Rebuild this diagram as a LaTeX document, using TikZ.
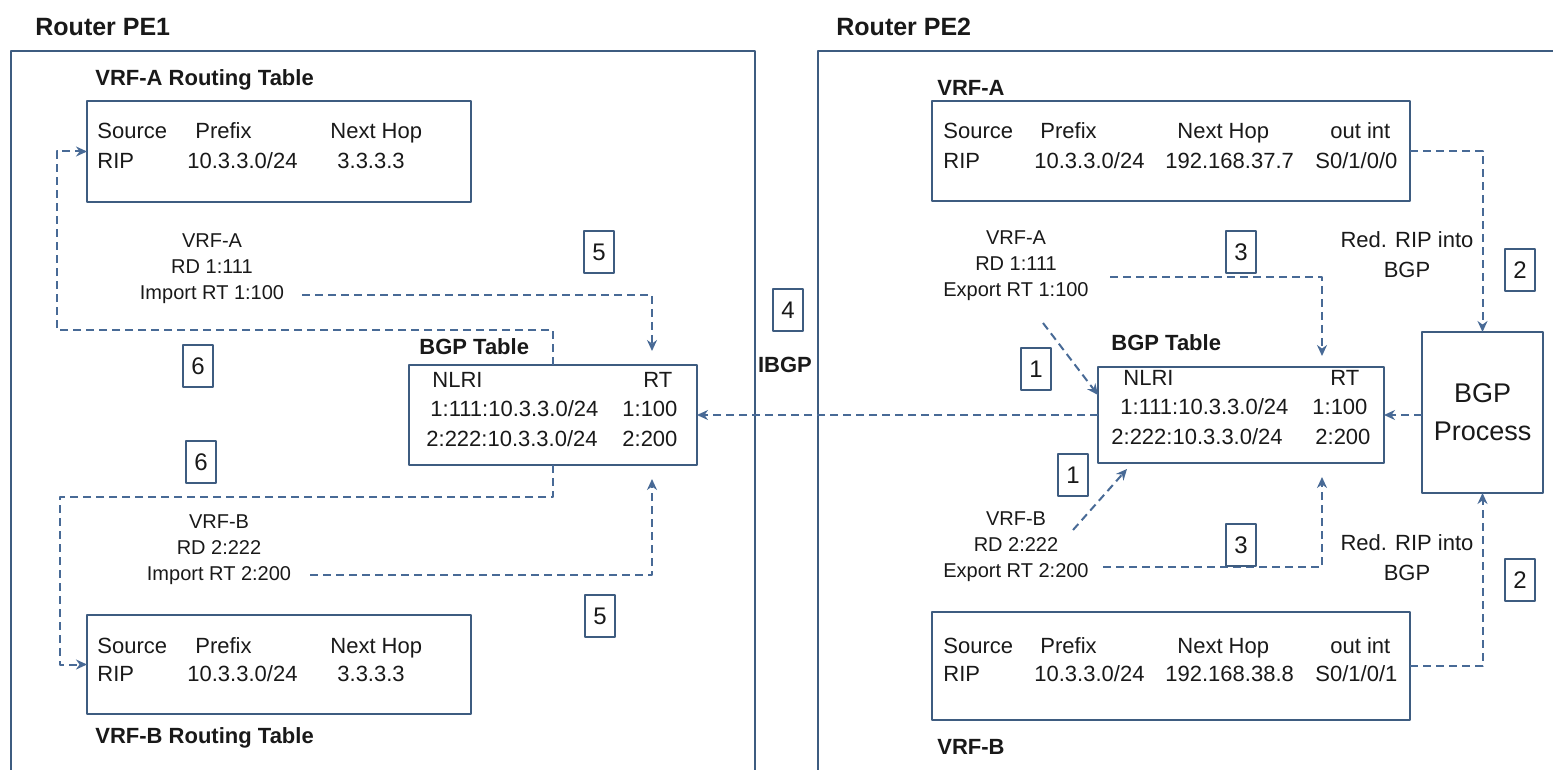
\documentclass[tikz,border=0pt]{standalone}
\usepackage{fontspec}
\setmainfont{Liberation Sans}
\usetikzlibrary{arrows.meta}
\definecolor{boxline}{RGB}{62,92,128}
\definecolor{flowline}{RGB}{72,106,150}
\definecolor{txt}{RGB}{25,25,25}
\tikzset{
  tbl/.style={draw=boxline, line width=1pt, inner sep=0pt, outer sep=0pt},
  cell/.style={anchor=west, inner sep=0pt, text height=8pt, text depth=2pt, text=txt, font=\fontsize{11}{13}\selectfont},
  ttl/.style={anchor=west, inner sep=0pt, text=txt, font=\bfseries\fontsize{11}{13}\selectfont},
  vrfinfo/.style={align=center, inner sep=0pt, text=txt, font=\fontsize{10}{13}\selectfont},
  stepnum/.style={draw=boxline, line width=0.9pt, minimum width=15pt, minimum height=21pt, inner sep=0pt, text=txt, font=\fontsize{12}{14}\selectfont},
  flow/.style={draw=flowline, line width=1pt, dash pattern=on 4pt off 2.5pt, -{Stealth[length=5.5pt,width=5pt,fill=flowline]}},
}
\begin{document}
\begin{tikzpicture}[x=0.5pt, y=-0.5pt, line join=round]
\useasboundingbox (0,0) rectangle (1553,770);
\clip (0,0) rectangle (1553,770);
% Khung hai router
\draw[boxline, line width=1pt] (11,51) rectangle (755,800);
\draw[boxline, line width=1pt] (818,51) rectangle (1600,800);
\node[ttl, font=\bfseries\fontsize{12.5}{14}\selectfont] (pe1) at (35,27) {Router PE1};
\node[ttl, font=\bfseries\fontsize{12.5}{14}\selectfont] (pe2) at (836,27) {Router PE2};

% ===== Router PE1 =====
% VRF-A routing table
\node[ttl] (ta1) at (95,80) {VRF-A Routing Table};
\node[tbl, minimum width=192pt, minimum height=50.5pt] (vrfA1) at (279,151.5) {};
\node[cell] (a1h1) at (97,133) {Source};
\node[cell] (a1h2) at (195,133) {Prefix};
\node[cell] (a1h3) at (330,133) {Next Hop};
\node[cell] (a1r1) at (97,163) {RIP};
\node[cell] (a1r2) at (187,163) {10.3.3.0/24};
\node[cell] (a1r3) at (337,163) {3.3.3.3};

% VRF-B routing table
\node[tbl, minimum width=192pt, minimum height=49.5pt] (vrfB1) at (279,664.5) {};
\node[cell] (b1h1) at (97,647) {Source};
\node[cell] (b1h2) at (195,647) {Prefix};
\node[cell] (b1h3) at (330,647) {Next Hop};
\node[cell] (b1r1) at (97,675) {RIP};
\node[cell] (b1r2) at (187,675) {10.3.3.0/24};
\node[cell] (b1r3) at (337,675) {3.3.3.3};
\node[ttl] (tb1) at (95,738) {VRF-B Routing Table};

% BGP table PE1
\node[ttl] (tg1) at (419,347) {BGP Table};
\node[tbl, minimum width=144pt, minimum height=50pt] (bgp1) at (553,415) {};
\node[cell] (g1h1) at (432,381) {NLRI};
\node[cell] (g1h2) at (643,381) {RT};
\node[cell] (g1r1) at (430,410) {1:111:10.3.3.0/24};
\node[cell] (g1r2) at (622,410) {1:100};
\node[cell] (g1s1) at (426,440) {2:222:10.3.3.0/24};
\node[cell] (g1s2) at (622,440) {2:200};

% Import VRF
\node[vrfinfo] (infoA1) at (212,269) {VRF-A\\RD 1:111\\Import RT 1:100};
\node[vrfinfo] (infoB1) at (219,550) {VRF-B\\RD 2:222\\Import RT 2:200};
\coordinate (impA) at (302,295);
\coordinate (impB) at (310,575);
\coordinate (c6a) at (57,330);
\coordinate (c6b) at (60,497);

% Buoc 5, 6
\draw[flow, shorten >=7pt] (impA) -| ([xshift=49.5pt]bgp1.north);
\draw[flow, shorten >=7pt] (impB) -| ([xshift=49.5pt]bgp1.south);
\draw[flow] (bgp1.north) |- (c6a) |- (vrfA1.west);
\draw[flow] (bgp1.south) |- (c6b) |- (vrfB1.west);
\node[stepnum] (s5a) at (599,252) {5};
\node[stepnum] (s5b) at (600,616) {5};
\node[stepnum] (s6a) at (198,366) {6};
\node[stepnum] (s6b) at (201,462) {6};

% ===== IBGP =====
\node[stepnum] (s4) at (788,310) {4};
\node[ttl, anchor=center] (ibgp) at (785,365) {IBGP};

% ===== Router PE2 =====
% VRF-A
\node[ttl] (ta2) at (937,88) {VRF-A};
\node[tbl, minimum width=239pt, minimum height=50pt] (vrfA2) at (1171,151) {};
\node[cell] (a2h1) at (943,133) {Source};
\node[cell] (a2h2) at (1040,133) {Prefix};
\node[cell] (a2h3) at (1177,133) {Next Hop};
\node[cell] (a2h4) at (1330,133) {out int};
\node[cell] (a2r1) at (943,163) {RIP};
\node[cell] (a2r2) at (1034,163) {10.3.3.0/24};
\node[cell] (a2r3) at (1165,163) {192.168.37.7};
\node[cell] (a2r4) at (1315,163) {S0/1/0/0};

% VRF-B
\node[tbl, minimum width=239pt, minimum height=54pt] (vrfB2) at (1171,666) {};
\node[cell] (b2h1) at (943,647) {Source};
\node[cell] (b2h2) at (1040,647) {Prefix};
\node[cell] (b2h3) at (1177,647) {Next Hop};
\node[cell] (b2h4) at (1330,647) {out int};
\node[cell] (b2r1) at (943,675) {RIP};
\node[cell] (b2r2) at (1034,675) {10.3.3.0/24};
\node[cell] (b2r3) at (1165,675) {192.168.38.8};
\node[cell] (b2r4) at (1315,675) {S0/1/0/1};
\node[ttl] (tb2) at (937,747) {VRF-B};

% BGP table PE2
\node[ttl] (tg2) at (1111,343) {BGP Table};
\node[tbl, minimum width=143pt, minimum height=48pt] (bgp2) at (1241,415) {};
\node[cell] (g2h1) at (1123,380) {NLRI};
\node[cell] (g2h2) at (1330,380) {RT};
\node[cell] (g2r1) at (1120,408) {1:111:10.3.3.0/24};
\node[cell] (g2r2) at (1312,408) {1:100};
\node[cell] (g2s1) at (1111,438) {2:222:10.3.3.0/24};
\node[cell] (g2s2) at (1315,438) {2:200};

% BGP process
\node[tbl, minimum width=60.5pt, minimum height=80.5pt, align=center, text=txt, font=\fontsize{13.5}{19}\selectfont] (proc) at (1482.5,412.5) {BGP\\Process};

% Export VRF
\node[vrfinfo] (infoA2) at (1016,266) {VRF-A\\RD 1:111\\Export RT 1:100};
\node[vrfinfo] (infoB2) at (1016,547) {VRF-B\\RD 2:222\\Export RT 2:200};
\node[vrfinfo, font=\fontsize{11}{15}\selectfont] (red1) at (1407,255) {Red. RIP into\\BGP};
\node[vrfinfo, font=\fontsize{11}{15}\selectfont] (red2) at (1407,558) {Red. RIP into\\BGP};
\coordinate (exA1) at (1043,323);
\coordinate (exB1) at (1073,530);
\coordinate (exA3) at (1110,277);
\coordinate (exB3) at (1103,567);

% Buoc 1, 2, 3
\draw[flow] (exA1) -- ([yshift=10pt]bgp2.west);
\draw[flow] (exB1) -- ([xshift=14.5pt,yshift=-3pt]bgp2.south west);
\draw[flow] (vrfA2.east) -| (proc.north);
\draw[flow] (vrfB2.east) -| (proc.south);
\draw[flow, shorten >=5.5pt] (exA3) -| ([xshift=40.5pt]bgp2.north);
\draw[flow, shorten >=7pt] (exB3) -| ([xshift=40.5pt]bgp2.south);
\draw[flow] (proc.west |- bgp2.east) -- (bgp2.east);
% Buoc 4: IBGP
\draw[flow] (bgp2.west) -- (bgp1.east);

\node[stepnum] (s1a) at (1036,369) {1};
\node[stepnum] (s1b) at (1073,475) {1};
\node[stepnum, fill=white] (s3a) at (1241,252) {3};
\node[stepnum, fill=white] (s3b) at (1241,545) {3};
\node[stepnum] (s2a) at (1520,270) {2};
\node[stepnum] (s2b) at (1520,580) {2};
\end{tikzpicture}
\end{document}
